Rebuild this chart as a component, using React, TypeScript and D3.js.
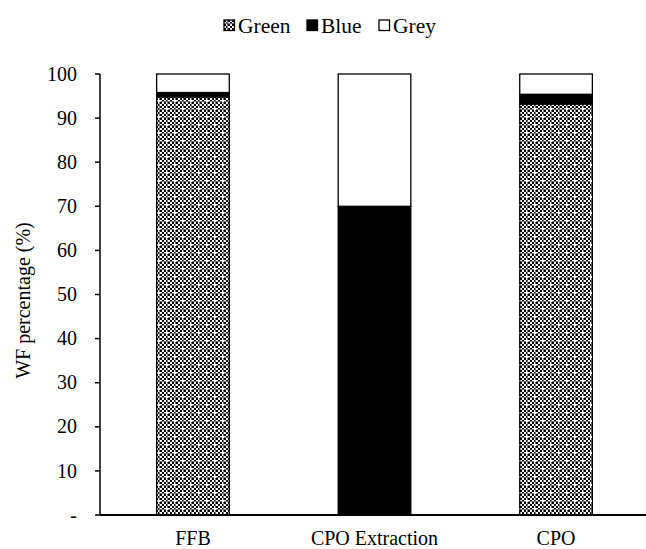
import React from 'react';
import * as d3 from 'd3';

const categories = ['FFB', 'CPO Extraction', 'CPO'];
const seriesNames = ['Green', 'Blue', 'Grey'];
const greenValues = [94.8, 0, 93.2];
const blueValues = [1.0, 70, 2.2];
const greyValues = [4.2, 30, 4.6];
const yTicks = [0, 10, 20, 30, 40, 50, 60, 70, 80, 90, 100];

const W = 646;
const H = 549;
const margin = { top: 74, right: 0, bottom: 34, left: 100 };
const FONT = "'Liberation Serif', 'Times New Roman', Times, serif";

const fills: Record<string, string> = {
  Green: 'url(#greenPattern)',
  Blue: '#000',
  Grey: '#fff',
};

export default function App() {
  const innerH = H - margin.top - margin.bottom;

  const x = d3.scaleBand().domain(categories).range([0, 549]).paddingInner(0.6).paddingOuter(0.312);
  const y = d3.scaleLinear().domain([0, 100]).range([innerH, 0]);

  const rows = categories.map((c, i) => ({
    category: c,
    Green: greenValues[i],
    Blue: blueValues[i],
    Grey: greyValues[i],
  }));
  const stacked = d3.stack<any>().keys(seriesNames)(rows);
  const txt = { fontFamily: FONT, fontSize: 20, fill: '#000' } as React.CSSProperties;
  const legendTxt = { ...txt, fontSize: 21.5 };

  return (
    <svg width={W} height={H} style={{ position: 'absolute', left: 0, top: 0, background: '#fff' }}>
      <defs>
        <pattern id="greenPattern" width="8" height="8" patternUnits="userSpaceOnUse">
          <rect width="8" height="8" fill="#fff" />
          <rect x="0" y="0" width="2" height="2" fill="#000" />
          <rect x="4" y="0" width="2" height="2" fill="#000" />
          <rect x="2" y="2" width="2" height="2" fill="#000" />
          <rect x="6" y="2" width="2" height="2" fill="#000" />
          <rect x="0" y="4" width="2" height="2" fill="#000" />
          <rect x="4" y="4" width="2" height="2" fill="#000" />
          <rect x="2" y="6" width="2" height="2" fill="#000" />
          <rect x="6" y="6" width="2" height="2" fill="#000" />
          <rect x="0" y="3" width="8" height="1" fill="#777" />
          <rect x="3" y="0" width="1" height="8" fill="#777" />
        </pattern>
        <pattern id="dotPattern" width="16" height="16" patternUnits="userSpaceOnUse">
          <rect x="2" y="2" width="2" height="2" fill="#fff" />
          <rect x="10" y="10" width="2" height="2" fill="#fff" />
        </pattern>
      </defs>

      {/* legend */}
      <g>
        {seriesNames.map((s, i) => {
          const lx = [224, 307, 379][i];
          return (
            <g key={s} transform={`translate(${lx},20)`}>
              <rect x={0} y={0} width={10.5} height={10.5} fill={fills[s]} stroke="#000" strokeWidth={1.3} />
              <text x={14} y={12.5} style={legendTxt}>{s}</text>
            </g>
          );
        })}
      </g>

      <g transform={`translate(${margin.left},${margin.top})`}>
        {stacked.map((layer) =>
          layer.map((d, i) => {
            const h = y(d[0]) - y(d[1]);
            if (h <= 0) return null;
            const bx = x(categories[i])!;
            return (
              <g key={layer.key + i}>
                <rect
                  x={bx}
                  y={y(d[1])}
                  width={x.bandwidth()}
                  height={h}
                  fill={fills[layer.key]}
                  stroke="#000"
                  strokeWidth={1.3}
                />
                {layer.key === 'Green' && (
                  <rect x={bx} y={y(d[1])} width={x.bandwidth()} height={h} fill="url(#dotPattern)" />
                )}
              </g>
            );
          })
        )}

        {/* y axis */}
        <line x1={0} x2={0} y1={0} y2={innerH} stroke="#000" strokeWidth={1.5} />
        {yTicks.map((t) => (
          <g key={t} transform={`translate(0,${y(t)})`}>
            <line x1={-5} x2={0} stroke="#000" strokeWidth={1.5} />
            <text x={-23} dy="0.33em" textAnchor="end" style={txt}>
              {t === 0 ? '-' : t}
            </text>
          </g>
        ))}

        {/* x axis */}
        <line x1={0} x2={W - margin.left} y1={innerH} y2={innerH} stroke="#000" strokeWidth={2} />
        {categories.map((c) => (
          <text key={c} x={x(c)! + x.bandwidth() / 2} y={innerH + 30} textAnchor="middle" style={txt}>
            {c}
          </text>
        ))}

        <text transform={`translate(${-70},${innerH / 2 + 6}) rotate(-90)`} textAnchor="middle" style={txt}>
          WF percentage (%)
        </text>
      </g>
    </svg>
  );
}
